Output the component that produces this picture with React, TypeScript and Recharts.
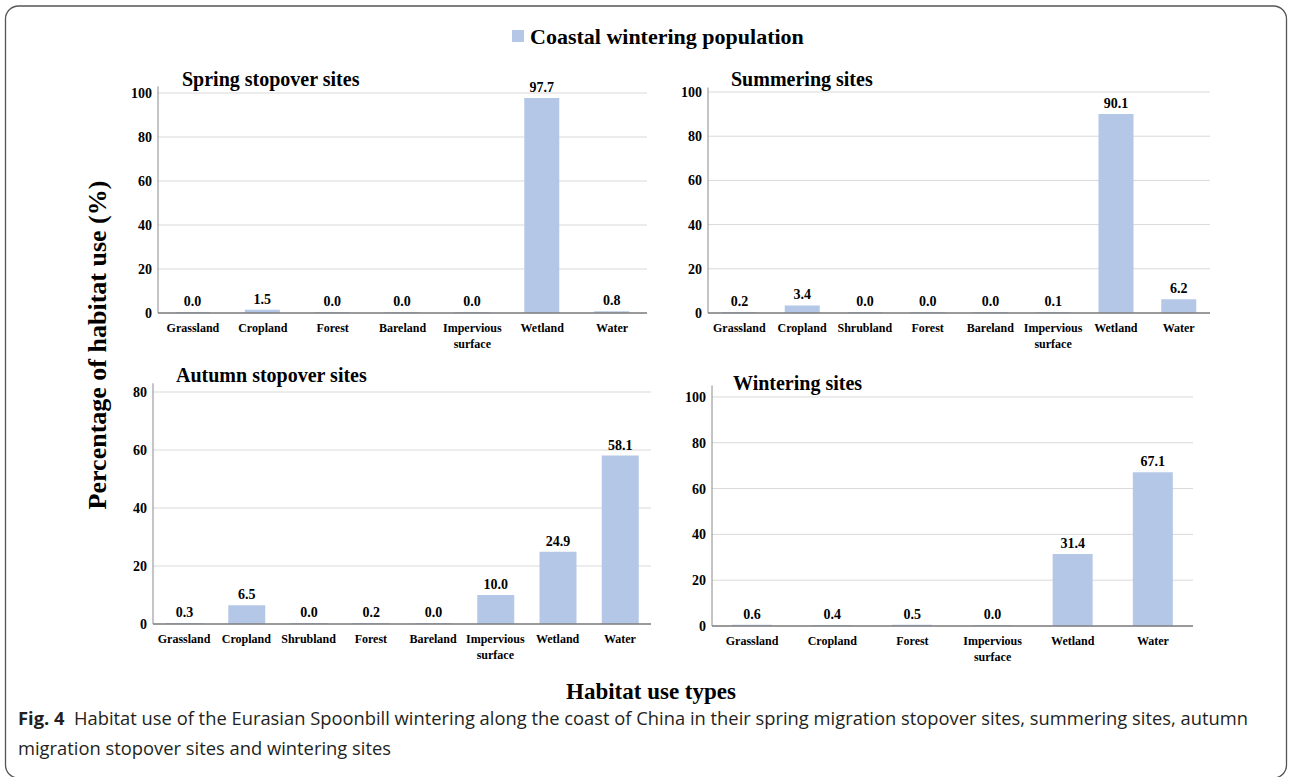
import React from 'react';
import { BarChart, Bar, XAxis, YAxis, CartesianGrid, LabelList } from 'recharts';

const springCategories = ['Grassland', 'Cropland', 'Forest', 'Bareland', 'Impervious surface', 'Wetland', 'Water'];
const springValues = [0.0, 1.5, 0.0, 0.0, 0.0, 97.7, 0.8];

const summerCategories = ['Grassland', 'Cropland', 'Shrubland', 'Forest', 'Bareland', 'Impervious surface', 'Wetland', 'Water'];
const summerValues = [0.2, 3.4, 0.0, 0.0, 0.0, 0.1, 90.1, 6.2];

const autumnCategories = ['Grassland', 'Cropland', 'Shrubland', 'Forest', 'Bareland', 'Impervious surface', 'Wetland', 'Water'];
const autumnValues = [0.3, 6.5, 0.0, 0.2, 0.0, 10.0, 24.9, 58.1];

const winterCategories = ['Grassland', 'Cropland', 'Forest', 'Impervious surface', 'Wetland', 'Water'];
const winterValues = [0.6, 0.4, 0.5, 0.0, 31.4, 67.1];

const ticks100 = [0, 20, 40, 60, 80, 100];
const ticks80 = [0, 20, 40, 60, 80];

const seriesName = 'Coastal wintering population';
const yTitle = 'Percentage of habitat use (%)';
const xTitle = 'Habitat use types';
const captionBold = 'Fig. 4';
const captionLine1 = 'Habitat use of the Eurasian Spoonbill wintering along the coast of China in their spring migration stopover sites, summering sites, autumn';
const captionLine2 = 'migration stopover sites and wintering sites';

const BAR = '#b4c7e7';
const SERIF = '"Liberation Serif", "DejaVu Serif", serif';
const SANS = '"Open Sans", "Noto Sans", sans-serif';

const build = (cats: string[], vals: number[]) => cats.map((c, i) => ({ category: c, value: vals[i] }));

const CategoryTick = (props: any) => {
  const { x, y, payload } = props;
  const words = String(payload.value).split(' ');
  return (
    <text x={x} y={y} textAnchor="middle" fontFamily={SERIF} fontSize={12} fontWeight="bold" fill="#000">
      {words.map((w, i) => (
        <tspan key={i} x={x} dy={i === 0 ? 19 : 16}>{w}</tspan>
      ))}
    </text>
  );
};

type PanelProps = {
  data: { category: string; value: number }[];
  left: number;
  top: number;
  width: number;
  height: number;
  marginTop: number;
  marginRight: number;
  xHeight: number;
  domainMax: number;
  ticks: number[];
  barSize: number;
};

const Panel = (p: PanelProps) => (
  <div style={{ position: 'absolute', left: p.left, top: p.top, width: p.width, height: p.height }}>
    <BarChart
      width={p.width}
      height={p.height}
      data={p.data}
      margin={{ top: p.marginTop, right: p.marginRight, left: 0, bottom: 0 }}
    >
      <CartesianGrid vertical={false} stroke="#d9d9d9" horizontalValues={p.ticks} />
      <XAxis
        dataKey="category"
        interval={0}
        tickLine={false}
        tickSize={0}
        tickMargin={0}
        height={p.xHeight}
        axisLine={{ stroke: '#7f7f7f', strokeWidth: 1.3 }}
        tick={<CategoryTick />}
      />
      <YAxis
        width={58}
        domain={[0, p.domainMax]}
        ticks={p.ticks}
        allowDataOverflow
        tickLine={false}
        tickSize={4}
        tickMargin={2}
        axisLine={{ stroke: '#8a8a8a' }}
        tick={{ fontSize: 14, fontWeight: 'bold', fill: '#000', fontFamily: SERIF }}
      />
      <Bar dataKey="value" fill={BAR} barSize={p.barSize} minPointSize={1} isAnimationActive={false}>
        <LabelList
          dataKey="value"
          position="top"
          offset={6}
          formatter={(v: any) => Number(v).toFixed(1)}
          style={{ fontSize: 14, fontWeight: 'bold', fill: '#000', fontFamily: SERIF }}
        />
      </Bar>
    </BarChart>
  </div>
);

export default function App() {
  return (
    <div style={{ position: 'absolute', left: 0, top: 0, width: 1290, height: 777, background: '#fff', overflow: 'hidden' }}>
      <svg width={1290} height={777} style={{ position: 'absolute', left: 0, top: 0 }}>
        <rect x={5.5} y={6} width={1281} height={772} rx={13} fill="none" stroke="#555" strokeWidth={1.3} />
        <rect x={512} y={30} width={12} height={12} fill={BAR} />
        <text x={530} y={44} fontFamily={SERIF} fontSize={22} fontWeight="bold" fill="#000">{seriesName}</text>
        <text x={182} y={86} fontFamily={SERIF} fontSize={20} fontWeight="bold" fill="#000">Spring stopover sites</text>
        <text x={731} y={86} fontFamily={SERIF} fontSize={20} fontWeight="bold" fill="#000">Summering sites</text>
        <text x={176} y={382} fontFamily={SERIF} fontSize={20} fontWeight="bold" fill="#000">Autumn stopover sites</text>
        <text x={733} y={390} fontFamily={SERIF} fontSize={20} fontWeight="bold" fill="#000">Wintering sites</text>
        <text transform="translate(106,345) rotate(-90)" textAnchor="middle" fontFamily={SERIF} fontSize={26} fontWeight="bold" fill="#000">{yTitle}</text>
        <text x={651} y={699} textAnchor="middle" fontFamily={SERIF} fontSize={23} fontWeight="bold" fill="#000">{xTitle}</text>
        <text x={18} y={725} fontFamily={SANS} fontSize={18} fill="#231f20" textLength={1230} lengthAdjust="spacingAndGlyphs">
          <tspan fontWeight="bold">{captionBold}</tspan>
          <tspan>{'\u00a0\u00a0' + captionLine1}</tspan>
        </text>
        <text x={18} y={755} fontFamily={SANS} fontSize={18} fill="#231f20" textLength={373} lengthAdjust="spacingAndGlyphs">{captionLine2}</text>
      </svg>
      <Panel data={build(springCategories, springValues)} left={100} top={50} width={560} height={320}
        marginTop={36.4} marginRight={13} xHeight={57} domainMax={103} ticks={ticks100} barSize={35} />
      <Panel data={build(summerCategories, summerValues)} left={650} top={50} width={575} height={320}
        marginTop={37.6} marginRight={15} xHeight={57} domainMax={102} ticks={ticks100} barSize={35} />
      <Panel data={build(autumnCategories, autumnValues)} left={95} top={350} width={570} height={330}
        marginTop={33.3} marginRight={14} xHeight={56} domainMax={83} ticks={ticks80} barSize={37} />
      <Panel data={build(winterCategories, winterValues)} left={654} top={350} width={555} height={332}
        marginTop={35.5} marginRight={16} xHeight={56} domainMax={105} ticks={ticks100} barSize={40} />
    </div>
  );
}
